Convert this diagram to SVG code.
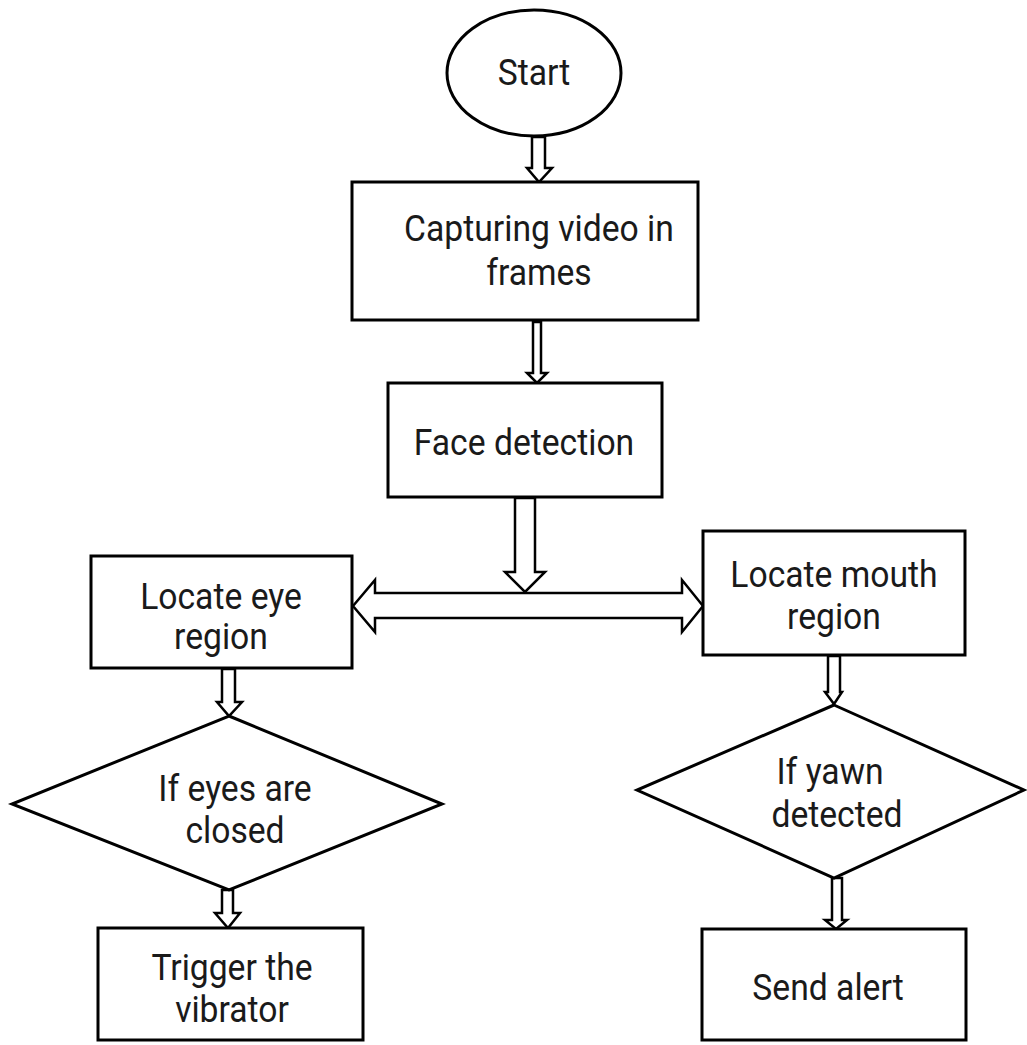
<svg xmlns="http://www.w3.org/2000/svg" width="1027" height="1045" viewBox="0 0 1027 1045">
<style>
.n{fill:#fff;stroke:#000;stroke-width:3}
.a{fill:#fff;stroke:#000;stroke-width:2.5;stroke-linejoin:miter}
text{font-family:Roboto,"Liberation Sans",sans-serif;font-size:37px;fill:#1a1a1a;text-anchor:middle;transform-box:fill-box;transform-origin:center;transform:scaleX(0.91)}
</style>
<rect width="1027" height="1045" fill="#fff"/>
<g id="connectors">
<path class="a" d="M532,137 V168 H527 L539,182 L552,168 H545 V137 Z"/>
<path class="a" d="M533,322 V373 H527 L537,383 L547,373 H541 V322 Z"/>
<path class="a" d="M515,498 V572 H505 L525,592 L545,572 H535 V498 Z"/>
<path class="a" d="M353,606 L375,580 V593 H682 V580 L703,606 L682,632 V618 H375 V632 Z"/>
<path class="a" d="M222,669 V702 H217 L229,716 L242,702 H235 V669 Z"/>
<path class="a" d="M222,890 V913 H215 L228,928 L240,913 H233 V890 Z"/>
<path class="a" d="M828,656 V692 H825 L834,704 L842,692 H840 V656 Z"/>
<path class="a" d="M832,878 V920 H825 L836,929 L847,920 H842 V878 Z"/>
</g>
<g id="start"><ellipse class="n" cx="534" cy="73" rx="87" ry="63"/><text x="534" y="85">Start</text></g>
<g id="capture"><rect class="n" x="352" y="182" width="346" height="138"/><text x="539" y="241">Capturing video in</text><text x="539" y="285">frames</text></g>
<g id="face"><rect class="n" x="388" y="383" width="274" height="114"/><text x="524" y="455">Face detection</text></g>
<g id="eye"><rect class="n" x="91" y="556" width="261" height="112"/><text x="221" y="609">Locate eye</text><text x="221" y="649">region</text></g>
<g id="mouth"><rect class="n" x="703" y="531" width="262" height="124"/><text x="834" y="587">Locate mouth</text><text x="834" y="629">region</text></g>
<g id="eyesclosed"><polygon class="n" points="229,716 442,804 229,890 12,804"/><text x="235" y="801">If eyes are</text><text x="235" y="843">closed</text></g>
<g id="yawn"><polygon class="n" points="834,705 1024,790 834,878 637,790"/><text x="830" y="784">If yawn</text><text x="837" y="827">detected</text></g>
<g id="vibrator"><rect class="n" x="98" y="928" width="265" height="112"/><text x="232" y="980">Trigger the</text><text x="232" y="1022">vibrator</text></g>
<g id="alert"><rect class="n" x="702" y="929" width="264" height="111"/><text x="828" y="1000">Send alert</text></g>
</svg>
